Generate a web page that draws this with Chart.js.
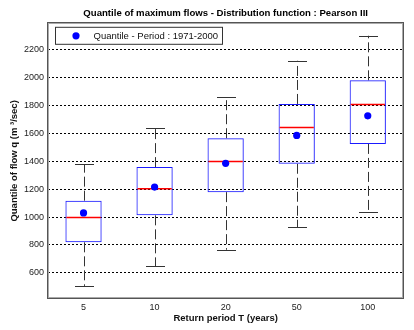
<!DOCTYPE html>
<html>
<head>
<meta charset="utf-8">
<script src="https://cdn.jsdelivr.net/npm/chart.js@4/dist/chart.umd.min.js"></script>
<style>
html,body{margin:0;padding:0;background:#fff;}
#wrap{width:414px;height:330px;position:relative;}
</style>
</head>
<body>
<div id="wrap"><canvas id="c" width="414" height="330"></canvas></div>
<script>
// ---- data ----
const categories   = ['5', '10', '20', '50', '100'];
const whiskerLow   = [507, 646, 766, 926, 1039];
const quartile1    = [819, 1012, 1178, 1381, 1523];
const medianValues = [996, 1203, 1398, 1641, 1805];
const quartile3    = [1117, 1357, 1564, 1809, 1978];
const whiskerHigh  = [1376, 1634, 1857, 2118, 2297];
const quantileMean = [1029, 1214, 1384, 1584, 1724];
const yTicks       = [600, 800, 1000, 1200, 1400, 1600, 1800, 2000, 2200];
const chartTitle   = 'Quantile of maximum flows - Distribution function : Pearson III';
const legendLabel  = 'Quantile - Period : 1971-2000';

const FONT = '"Liberation Sans", Arial, sans-serif';

const boxPlotPlugin = {
  id: 'boxExtras',
  beforeDatasetsDraw(chart) {
    const {ctx, scales: {x, y}} = chart;
    ctx.save();
    categories.forEach((c, i) => {
      const cx = Math.round(x.getPixelForValue(i)) + 0.5;
      const capHalf = 9.5;
      ctx.strokeStyle = '#333';
      ctx.lineWidth = 1;
      ctx.setLineDash([10, 4]);
      ctx.beginPath();
      ctx.moveTo(cx, y.getPixelForValue(quartile3[i]));
      ctx.lineTo(cx, y.getPixelForValue(whiskerHigh[i]));
      ctx.moveTo(cx, y.getPixelForValue(quartile1[i]));
      ctx.lineTo(cx, y.getPixelForValue(whiskerLow[i]));
      ctx.stroke();
      ctx.setLineDash([]);
      ctx.beginPath();
      const yh = Math.round(y.getPixelForValue(whiskerHigh[i])) + 0.5;
      const yl = Math.round(y.getPixelForValue(whiskerLow[i])) + 0.5;
      ctx.moveTo(cx - capHalf, yh); ctx.lineTo(cx + capHalf, yh);
      ctx.moveTo(cx - capHalf, yl); ctx.lineTo(cx + capHalf, yl);
      ctx.stroke();
    });
    ctx.restore();
  },
  afterDatasetDraw(chart, args) {
    if (args.index !== 0) return;
    const {ctx, scales: {y}} = chart;
    ctx.save();
    ctx.setLineDash([]);
    ctx.strokeStyle = 'rgb(255,0,0)';
    ctx.lineWidth = 1.5;
    args.meta.data.forEach((bar, i) => {
      const half = bar.width / 2 - 1;
      const ym = y.getPixelForValue(medianValues[i]);
      ctx.beginPath();
      ctx.moveTo(bar.x - half, ym); ctx.lineTo(bar.x + half, ym);
      ctx.stroke();
    });
    ctx.restore();
  },
  afterDraw(chart) {
    const {ctx, chartArea: a} = chart;
    ctx.save();
    ctx.setLineDash([]);
    ctx.strokeStyle = '#555';
    ctx.lineWidth = 1;
    ctx.strokeRect(Math.round(a.left) - 0.5, Math.round(a.top) - 0.5, Math.round(a.right - a.left) + 1, Math.round(a.bottom - a.top) + 1);
    ctx.strokeStyle = '#aaa';
    ctx.strokeRect(Math.round(a.left) + 0.5, Math.round(a.top) + 0.5, Math.round(a.right - a.left) - 1, Math.round(a.bottom - a.top) - 1);
    // title
    ctx.fillStyle = '#000';
    ctx.font = 'bold 9.6px ' + FONT;
    ctx.textAlign = 'center';
    ctx.textBaseline = 'middle';
    ctx.fillText(chartTitle, (a.left + a.right) / 2, 13);
    // legend
    const lx = a.left + 7.5, ly = a.top + 4;
    ctx.fillStyle = '#fff';
    ctx.fillRect(lx, ly, 167, 17);
    ctx.strokeStyle = '#333';
    ctx.strokeRect(lx, ly, 167, 17);
    const ds = chart.data.datasets[1];
    ctx.fillStyle = ds.backgroundColor;
    ctx.beginPath();
    ctx.arc(lx + 20.5, ly + 8.5, 3.6, 0, Math.PI * 2);
    ctx.fill();
    ctx.fillStyle = '#111';
    ctx.font = '9.5px ' + FONT;
    ctx.textAlign = 'left';
    ctx.fillText(ds.label, lx + 38, ly + 9);
    ctx.restore();
  }
};

new Chart(document.getElementById('c'), {
  type: 'bar',
  data: {
    labels: categories,
    datasets: [
      {
        label: 'box',
        data: categories.map((c, i) => [quartile1[i], quartile3[i]]),
        backgroundColor: 'rgba(0,0,0,0)',
        borderColor: '#1a1aff',
        borderWidth: 1,
        borderSkipped: false,
        barPercentage: 0.51,
        categoryPercentage: 1,
        order: 2
      },
      {
        type: 'line',
        label: legendLabel,
        data: quantileMean,
        showLine: false,
        pointStyle: 'circle',
        pointRadius: 3.6,
        pointBackgroundColor: '#0000ff',
        pointBorderWidth: 0,
        backgroundColor: '#0000ff',
        borderColor: '#0000ff',
        order: 1
      }
    ]
  },
  options: {
    responsive: false,
    devicePixelRatio: 1,
    animation: false,
    layout: { padding: { top: 23.3, right: 10.7, left: 0, bottom: 0 } },
    plugins: {
      legend: { display: false },
      title: { display: false },
      tooltip: { enabled: false }
    },
    scales: {
      x: {
        grid: { display: false, drawTicks: false },
        border: { display: false },
        ticks: { color: '#222', font: { family: FONT, size: 9 }, padding: 4 },
        title: { display: true, text: 'Return period T (years)', color: '#111', font: { family: FONT, size: 9.5, weight: 'bold' }, padding: 6 },
        afterFit(s) { s.height = 31.5; }
      },
      y: {
        min: 417,
        max: 2386,
        afterBuildTicks(s) { s.ticks = yTicks.map(v => ({ value: v })); },
        grid: { color: '#000', lineWidth: 1, drawTicks: false },
        border: { display: false, dash: [2, 2] },
        ticks: { color: '#222', font: { family: FONT, size: 9 }, padding: 4, callback: v => String(v) },
        title: { display: true, text: 'Quantile of flow q (m ³/sec)', color: '#111', font: { family: FONT, size: 9.5, weight: 'bold' }, padding: 9 },
        afterFit(s) { s.width = 48; }
      }
    }
  },
  plugins: [boxPlotPlugin]
});
</script>
</body>
</html>
